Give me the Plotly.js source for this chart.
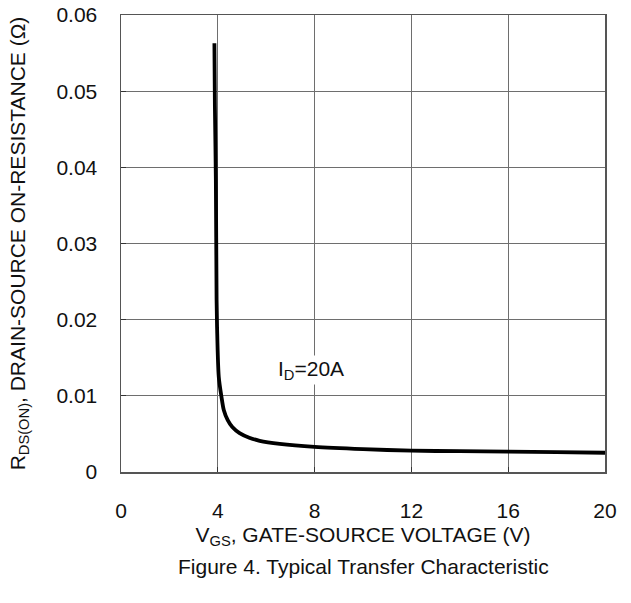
<!DOCTYPE html>
<html>
<head>
<meta charset="utf-8">
<script src="https://cdn.plot.ly/plotly-3.0.1.min.js"></script>
<style>html,body{margin:0;padding:0;background:#fff;}#chart{width:631px;height:603px;}</style>
</head>
<body>
<div id="chart"></div>
<script>
// V_GS (V)
var vgs = [3.86, 3.88, 3.92, 3.95, 3.97, 4.04, 4.15, 4.25, 4.41, 4.6, 4.9, 5.3, 5.73, 6.56, 8, 10, 12, 14, 16, 18, 20];
// R_DS(ON) (ohm)
var rds = [0.0563, 0.048, 0.0383, 0.0226, 0.019, 0.0125, 0.0099, 0.0081, 0.0068, 0.0059, 0.0051, 0.0045, 0.0041, 0.0037, 0.0033, 0.0030, 0.0028, 0.00273, 0.00267, 0.0026, 0.00253];
var xTicks = [0, 4, 8, 12, 16, 20];
var yTicks = [0, 0.01, 0.02, 0.03, 0.04, 0.05, 0.06];
var yTickText = ['0', '0.01', '0.02', '0.03', '0.04', '0.05', '0.06'];

var font = 'Liberation Sans, Arial, Helvetica, sans-serif';
var fs = 21;
var trace = {
  x: vgs, y: rds, mode: 'lines', type: 'scatter',
  line: {color: '#000', width: 3.8, shape: 'spline', smoothing: 0.8},
  hoverinfo: 'skip'
};
var layout = {
  width: 631, height: 603,
  margin: {l: 121, r: 26, t: 15, b: 131},
  paper_bgcolor: '#fff', plot_bgcolor: '#fff',
  showlegend: false,
  font: {family: font, size: fs, color: '#111'},
  xaxis: {
    range: [0, 20], tickvals: xTicks, ticktext: xTicks.map(String),
    showgrid: true, gridcolor: '#6e6e6e', gridwidth: 1,
    zeroline: false, showline: true, linecolor: '#555', linewidth: 1.5, mirror: true,
    ticks: 'inside', ticklen: 5, tickcolor: '#333',
    ticklabelstandoff: 19,
    tickfont: {family: font, size: fs, color: '#111'},
    title: {text: 'V<sub>GS</sub>, GATE-SOURCE VOLTAGE (V)', font: {family: font, size: fs, color: '#111'}, standoff: 6}
  },
  yaxis: {
    range: [0, 0.06], tickvals: yTicks, ticktext: yTickText,
    showgrid: true, gridcolor: '#6e6e6e', gridwidth: 1,
    zeroline: false, showline: true, linecolor: '#555', linewidth: 1.5, mirror: true,
    ticks: 'inside', ticklen: 5, tickcolor: '#333',
    ticklabelstandoff: 18,
    tickfont: {family: font, size: fs, color: '#111'},
    title: {text: 'R<sub>DS(ON)</sub>, DRAIN-SOURCE ON-RESISTANCE (Ω)', font: {family: font, size: fs, color: '#111'}, standoff: 25}
  },
  annotations: [
    {x: 7.84, y: 0.0134, xref: 'x', yref: 'y', text: 'I<sub>D</sub>=20A', showarrow: false,
     font: {family: font, size: fs, color: '#111'}, bgcolor: '#fff'},
    {x: 0.5, xref: 'paper', y: 0, yref: 'paper', yanchor: 'middle', text: 'Figure 4. Typical Transfer Characteristic',
     showarrow: false, font: {family: font, size: fs, color: '#111'}}
  ]
};
var plotH = 603 - 15 - 131;
layout.annotations[1].y = (472 - 566) / plotH;
layout.annotations[1].x = (363 - 121) / (605 - 121);
Plotly.newPlot('chart', [trace], layout, {displayModeBar: false, staticPlot: true});
</script>
</body>
</html>
